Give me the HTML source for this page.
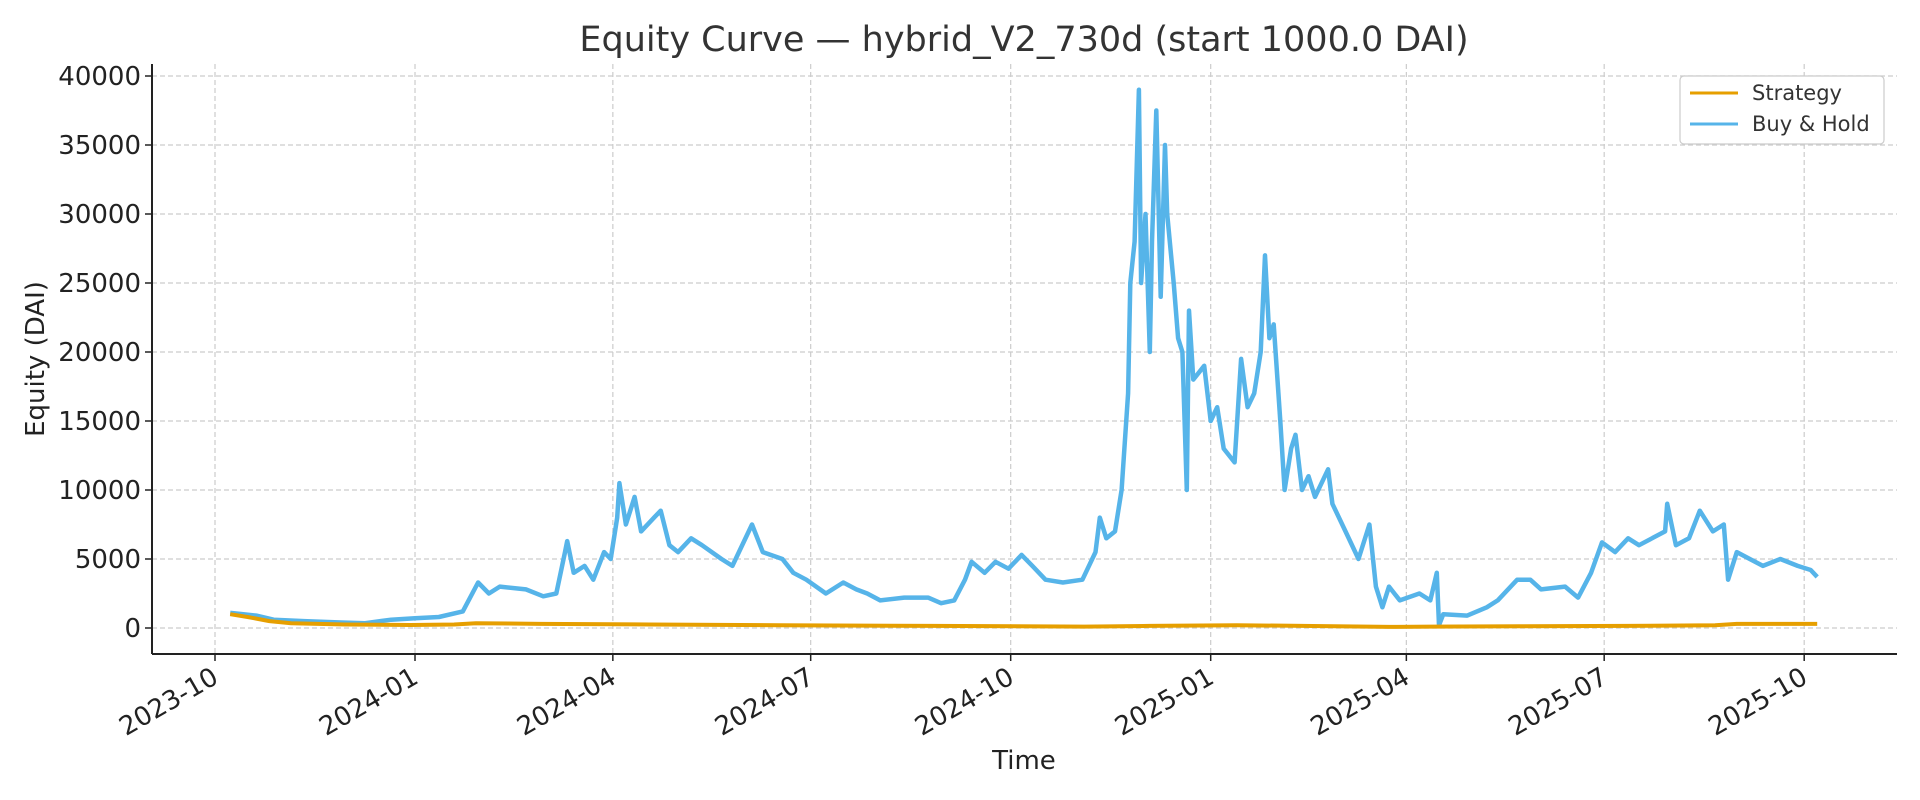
<!DOCTYPE html>
<html><head><meta charset="utf-8"><style>
html,body{margin:0;padding:0;background:#fff;}
svg{display:block;font-family:"DejaVu Sans","Liberation Sans",sans-serif;}
</style></head><body>
<svg id="chart" width="1920" height="800" viewBox="0 0 1920 800" xmlns="http://www.w3.org/2000/svg">
<rect width="1920" height="800" fill="#fff"/>
<text x="1024" y="51" text-anchor="middle" font-size="35" fill="#333">Equity Curve — hybrid_V2_730d (start 1000.0 DAI)</text>
<g id="grid"></g>
<g id="series"></g>
<g id="axes"></g>
<text x="1024" y="769" text-anchor="middle" font-size="26" fill="#222">Time</text>
<text transform="translate(44,359) rotate(-90)" text-anchor="middle" font-size="26" fill="#222">Equity (DAI)</text>
<g>
<rect x="1680" y="76" width="204" height="68" rx="4" fill="#fff" stroke="#ccc" stroke-width="1.2"/>
<line x1="1690" y1="93" x2="1738" y2="93" stroke="#E69F00" stroke-width="3"/>
<text x="1752" y="100" font-size="21" fill="#333">Strategy</text>
<line x1="1690" y1="124" x2="1738" y2="124" stroke="#56B4E9" stroke-width="3"/>
<text x="1752" y="131" font-size="21" fill="#333">Buy &amp; Hold</text>
</g>
</svg>
<script>
// days since 2023-10-01
const bhDays=[7,13,19,27,41,58,69,81,92,103,114,121,126,131,143,151,157,161,162,165,170,174,179,182,185,186,189,193,196,202,205,209,213,219,224,233,238,247,252,261,266,272,281,289,295,300,306,317,328,334,340,345,348,354,359,365,371,376,382,390,399,405,407,410,414,417,420,421,423,425,426,428,430,431,433,435,437,438,441,443,445,447,448,450,455,458,461,464,469,472,475,478,481,483,485,487,490,492,495,497,500,503,506,512,514,520,526,531,534,537,540,545,554,559,562,563,565,576,585,590,599,605,610,621,627,633,638,644,650,655,661,667,668,672,678,683,689,694,696,700,706,712,720,728,734,737];
const bhValues=[1100,1000,900,600,500,400,350,600,700,800,1200,3300,2500,3000,2800,2300,2500,5500,6300,4000,4500,3500,5500,5000,8000,10500,7500,9500,7000,8000,8500,6000,5500,6500,6000,5000,4500,7500,5500,5000,4000,3500,2500,3300,2800,2500,2000,2200,2200,1800,2000,3500,4800,4000,4800,4300,5300,4500,3500,3300,3500,5500,8000,6500,7000,10000,17000,25000,28000,39000,25000,30000,20000,28000,37500,24000,35000,30000,25000,21000,20000,10000,23000,18000,19000,15000,16000,13000,12000,19500,16000,17000,20000,27000,21000,22000,15000,10000,13000,14000,10000,11000,9500,11500,9000,7000,5000,7500,3000,1500,3000,2000,2500,2000,4000,200,1000,900,1500,2000,3500,3500,2800,3000,2200,4000,6200,5500,6500,6000,6500,7000,9000,6000,6500,8500,7000,7500,3500,5500,5000,4500,5000,4500,4200,3700];
const stDays=[7,15,25,35,60,90,110,120,150,200,260,330,400,430,470,500,540,560,600,650,690,700,737];
const stValues=[1000,800,500,350,250,220,250,350,300,250,200,150,100,150,200,150,80,100,120,150,200,300,300];
const yTicks=[0,5000,10000,15000,20000,25000,30000,35000,40000];
const xTickDays=[0,92,183,274,366,458,548,639,731];
const xTickLabels=["2023-10","2024-01","2024-04","2024-07","2024-10","2025-01","2025-04","2025-07","2025-10"];

const L=152,R=1897,T=64,B=654;
const xs=d=>215+d*2.174;
const ys=v=>628-v*(69/5000);
const NS="http://www.w3.org/2000/svg";
function mk(tag,attrs,parent){const e=document.createElementNS(NS,tag);for(const k in attrs)e.setAttribute(k,attrs[k]);parent.appendChild(e);return e;}
const grid=document.getElementById('grid'),axes=document.getElementById('axes'),series=document.getElementById('series');
yTicks.forEach(v=>{
  const y=ys(v);
  const g=mk('line',{x1:L,x2:R,y1:y,y2:y,stroke:'#ccc','stroke-dasharray':'5,3','stroke-width':1.2},grid);
  
  
  mk('line',{x1:L-7,x2:L,y1:y,y2:y,stroke:'#222','stroke-width':1.5},axes);
  const t=mk('text',{x:L-11,y:y+9,'text-anchor':'end','font-size':26,fill:'#222'},axes);
  t.textContent=v;
  
  
});
xTickDays.forEach((d,i)=>{
  const x=xs(d);
  const g=mk('line',{x1:x,x2:x,y1:T,y2:B,stroke:'#ccc','stroke-dasharray':'5,3','stroke-width':1.2},grid);
  
  
  mk('line',{x1:x,x2:x,y1:B,y2:B+7,stroke:'#222','stroke-width':1.5},axes);
  const t=mk('text',{x:x+5,y:B+28,'text-anchor':'end','font-size':26,fill:'#222',transform:`rotate(-30 ${x+5} ${B+28})`},axes);
  t.textContent=xTickLabels[i];
  
  
});
mk('line',{x1:L,x2:L,y1:T,y2:B,stroke:'#222','stroke-width':2},axes);
mk('line',{x1:L,x2:R,y1:B,y2:B,stroke:'#222','stroke-width':2},axes);
function path(days,vals,color,w,name){
  const d=days.map((dd,i)=>(i?'L':'M')+xs(dd).toFixed(1)+','+ys(vals[i]).toFixed(1)).join('');
  const p=mk('path',{d:d,fill:'none',stroke:color,'stroke-width':w,'stroke-linejoin':'round'},series);
  
  
}
path(bhDays,bhValues,'#56B4E9',4.5,'buy-hold-line');
path(stDays,stValues,'#E69F00',4,'strategy-line');
</script>
</body></html>
